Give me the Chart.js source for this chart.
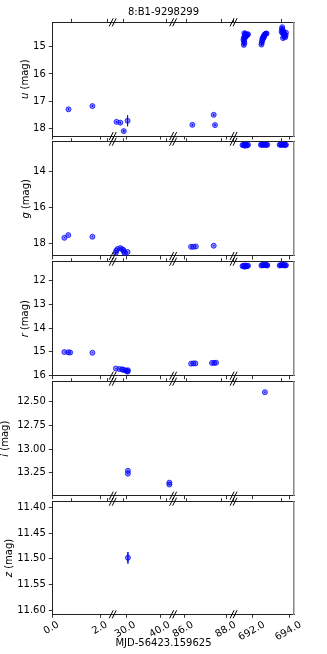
<!DOCTYPE html>
<html>
<head>
<meta charset="utf-8">
<script src="https://cdn.jsdelivr.net/npm/chart.js@4.4.0/dist/chart.umd.min.js"></script>
<style>
  body { margin: 0; background: #fff; }
  #wrap { position: relative; width: 327px; height: 654px; }
  #wrap canvas { position: absolute; left: 0; top: 0; }
</style>
</head>
<body>
<div id="wrap"></div>
<script>
const TITLE = "8:B1-9298299";
const X_LABEL = "MJD-56423.159625";

// broken x axis: four pieces
const segLimits = [[0, 2.5], [26.1, 43.6], [85.49, 88.32], [690.96, 694.26]];
const segTicks = [[0, 2], [30, 40], [86, 88], [692, 694]];

const uTime = [0.67, 1.66, 27.2, 28.3, 29.3, 30.4, 86.39, 87.39, 87.45,
  691.55, 691.60, 691.65, 691.70, 691.58, 691.62, 691.52, 691.56, 691.50, 691.53, 691.55, 691.52, 691.68, 691.75,
  692.48, 692.50, 692.52, 692.55, 692.57, 692.60, 692.63, 692.66, 692.70, 692.73, 692.76, 692.62, 692.54,
  693.62, 693.60, 693.65, 693.58, 693.64, 693.70, 693.75, 693.80, 693.72, 693.78, 693.66, 693.82, 693.68];
const uMag = [17.30, 17.18, 17.76, 17.79, 18.10, 17.72, 17.87, 17.50, 17.88,
  14.50, 14.52, 14.55, 14.56, 14.60, 14.63, 14.66, 14.70, 14.74, 14.80, 14.86, 14.93, 14.58, 14.54,
  14.92, 14.85, 14.78, 14.72, 14.66, 14.62, 14.58, 14.55, 14.53, 14.52, 14.51, 14.65, 14.70,
  14.28, 14.35, 14.40, 14.45, 14.50, 14.52, 14.55, 14.58, 14.62, 14.65, 14.68, 14.48, 14.45];
const uErr = [0.03, 0.03, 0.03, 0.03, 0.04, 0.20, 0.03, 0.03, 0.03,
  0.04, 0.04, 0.04, 0.04, 0.04, 0.04, 0.04, 0.04, 0.04, 0.04, 0.05, 0.05, 0.04, 0.04,
  0.05, 0.05, 0.04, 0.04, 0.04, 0.04, 0.04, 0.04, 0.04, 0.04, 0.04, 0.04, 0.04,
  0.04, 0.04, 0.04, 0.04, 0.04, 0.04, 0.04, 0.04, 0.04, 0.04, 0.04, 0.04, 0.04];

const gTime = [0.50, 0.66, 1.66, 27.0, 27.1, 27.5, 28.3, 28.8, 29.2, 29.4, 29.6, 30.4, 86.33, 86.44, 86.55, 87.39,
  691.45, 691.50, 691.55, 691.60, 691.65, 691.70, 691.75, 691.58,
  692.45, 692.50, 692.55, 692.60, 692.65, 692.70, 692.75, 692.80,
  693.48, 693.53, 693.58, 693.63, 693.68, 693.73, 693.78, 693.82];
const gMag = [17.67, 17.52, 17.61, 18.50, 18.39, 18.29, 18.24, 18.31, 18.35, 18.46, 18.53, 18.46, 18.17, 18.17, 18.15, 18.11,
  12.52, 12.50, 12.53, 12.49, 12.51, 12.54, 12.50, 12.55,
  12.50, 12.49, 12.51, 12.48, 12.50, 12.49, 12.51, 12.50,
  12.50, 12.49, 12.51, 12.48, 12.50, 12.49, 12.51, 12.50];
const gErr = gMag.map(() => 0.02);

const rTime = [0.50, 0.66, 0.74, 1.66, 27.0, 28.0, 28.8, 29.1, 29.7, 30.2, 30.4, 30.5,
  86.33, 86.44, 86.53, 87.31, 87.41, 87.50,
  691.45, 691.50, 691.55, 691.60, 691.65, 691.70, 691.75, 691.58,
  692.48, 692.53, 692.58, 692.63, 692.68, 692.73, 692.78, 692.80,
  693.48, 693.53, 693.58, 693.63, 693.68, 693.73, 693.78, 693.82];
const rMag = [15.01, 15.02, 15.03, 15.04, 15.71, 15.73, 15.74, 15.76, 15.78, 15.81, 15.84, 15.78,
  15.50, 15.49, 15.49, 15.47, 15.47, 15.46,
  11.38, 11.36, 11.39, 11.35, 11.37, 11.38, 11.36, 11.40,
  11.35, 11.33, 11.34, 11.32, 11.34, 11.33, 11.35, 11.34,
  11.35, 11.33, 11.34, 11.32, 11.34, 11.33, 11.35, 11.34];
const rErr = rMag.map(() => 0.01);

const iTime = [30.5, 30.5, 42.5, 42.5, 692.67];
const iMag = [13.23, 13.26, 13.355, 13.375, 12.40];
const iErr = [0.005, 0.005, 0.005, 0.005, 0.005];

const zTime = [30.5];
const zMag = [11.498];
const zErr = [0.011];

const uTicks = [15, 16, 17, 18];
const gTicks = [14, 16, 18];
const rTicks = [12, 13, 14, 15, 16];
const iTicks = [12.5, 12.75, 13.0, 13.25];
const zTicks = [11.4, 11.45, 11.5, 11.55, 11.6];

const bands = [
  { letter: "u", time: uTime, mag: uMag, err: uErr, ticks: uTicks, lim: [14.10, 18.28], digits: 0 },
  { letter: "g", time: gTime, mag: gMag, err: gErr, ticks: gTicks, lim: [12.33, 18.68], digits: 0 },
  { letter: "r", time: rTime, mag: rMag, err: rErr, ticks: rTicks, lim: [11.19, 16.01], digits: 0 },
  { letter: "i", time: iTime, mag: iMag, err: iErr, ticks: iTicks, lim: [12.289, 13.493], digits: 2 },
  { letter: "z", time: zTime, mag: zMag, err: zErr, ticks: zTicks, lim: [11.389, 11.608], digits: 2 },
];

// layout of the five panels
const panelTop = [22.3, 141.7, 261.7, 381.7, 501.7];
const panelBottom = [136, 256, 375.7, 495.7, 614.3];
const labelX = [25.3, 26, 25, 5, 9];
const labelShift = [6, 8.7, 8.7, 11.5];
const PLOT_LEFT = 52.3, PLOT_RIGHT = 294;

const FONT = "'DejaVu Sans', sans-serif";
Chart.defaults.font.family = FONT;
Chart.defaults.font.size = 10;
Chart.defaults.color = "#000";

const decor = {
  id: "decor",
  afterDraw(chart, args, opts) {
    const ctx = chart.ctx;
    const { top, bottom } = chart.chartArea;
    ctx.save();
    // the // marks at each break
    ctx.strokeStyle = "#000";
    ctx.lineWidth = 1;
    for (let k = 1; k < segLimits.length; k++) {
      const bx = chart.scales["x" + k].left;
      for (const y of [top, bottom]) {
        for (const o of [-1.5, 1.5]) {
          ctx.beginPath();
          ctx.moveTo(bx + o - 2, y + 4);
          ctx.lineTo(bx + o + 2, y - 4);
          ctx.stroke();
        }
      }
    }
    ctx.fillStyle = "#000";
    ctx.textBaseline = "middle";
    ctx.textAlign = "center";
    ctx.font = "10px " + FONT;
    if (opts.title) ctx.fillText(TITLE, 163.5, 12.5);
    if (opts.xlabel) ctx.fillText(X_LABEL, 163.5, 643.5);

    // y label with italic band letter
    ctx.translate(opts.labelX, (top + bottom) / 2);
    ctx.rotate(-Math.PI / 2);
    ctx.textAlign = "left";
    const rest = " (mag)";
    ctx.font = "italic 10px " + FONT;
    const w1 = ctx.measureText(opts.letter).width;
    ctx.font = "10px " + FONT;
    const w2 = ctx.measureText(rest).width;
    const x0 = -(w1 + w2) / 2;
    ctx.font = "italic 10px " + FONT;
    ctx.fillText(opts.letter, x0, 0);
    ctx.font = "10px " + FONT;
    ctx.fillText(rest, x0 + w1, 0);
    ctx.restore();
  },
};

function xScale(k, pos, labels, boxHeight) {
  return {
    type: "linear",
    axis: "x",
    position: pos,
    stack: pos,
    stackWeight: 1,
    min: segLimits[k][0],
    max: segLimits[k][1],
    afterBuildTicks: (s) => { s.ticks = segTicks[k].map((v) => ({ value: v })); },
    afterFit: (s) => { s.height = boxHeight; },
    grid: { drawOnChartArea: false, drawTicks: true, tickLength: 3.5, tickColor: "#000", tickWidth: 0.8 },
    border: { display: true, color: "#222", width: 1 },
    ticks: {
      display: labels,
      autoSkip: false,
      minRotation: 30,
      maxRotation: 30,
      padding: 1,
      labelOffset: labelShift[k],
      callback: (v) => Number(v).toFixed(1),
    },
  };
}

const wrap = document.getElementById("wrap");

bands.forEach((b, i) => {
  const canvas = document.createElement("canvas");
  canvas.width = 327;
  canvas.height = 654;
  wrap.appendChild(canvas);
  const last = i === bands.length - 1;
  const xBox = last ? 654 - panelBottom[i] : 0;

  const datasets = [];
  const scales = {};
  segLimits.forEach((lim, k) => {
    const idx = b.time.map((t, j) => j).filter((j) => b.time[j] >= lim[0] && b.time[j] <= lim[1]);
    datasets.push({
      type: "scatter",
      xAxisID: "x" + k,
      yAxisID: "y",
      data: idx.map((j) => ({ x: b.time[j], y: b.mag[j] })),
      backgroundColor: "rgba(0, 0, 255, 0.45)",
      borderColor: "rgba(0, 0, 255, 0.75)",
      borderWidth: 1,
      pointRadius: 2.5,
      order: 1,
    });
    const bars = [];
    idx.forEach((j) => {
      bars.push({ x: b.time[j], y: b.mag[j] - b.err[j] });
      bars.push({ x: b.time[j], y: b.mag[j] + b.err[j] });
      bars.push({ x: b.time[j], y: null });
    });
    datasets.push({
      type: "line",
      xAxisID: "x" + k,
      yAxisID: "y",
      data: bars,
      borderColor: "rgba(0, 0, 255, 0.8)",
      borderWidth: 1,
      pointRadius: 0,
      spanGaps: false,
      fill: false,
      order: 2,
    });
    scales["x" + k] = xScale(k, "bottom", last, xBox);
    scales["xt" + k] = xScale(k, "top", false, 0);
  });

  scales.y = {
    type: "linear",
    position: "left",
    reverse: true,
    min: b.lim[0],
    max: b.lim[1],
    afterBuildTicks: (s) => { s.ticks = b.ticks.map((v) => ({ value: v })); },
    afterFit: (s) => { s.width = 40; },
    grid: { drawOnChartArea: false, tickLength: 3.5, tickColor: "#000", tickWidth: 0.8 },
    border: { color: "#222", width: 1 },
    ticks: { padding: 3, callback: (v) => Number(v).toFixed(b.digits) },
  };
  scales.yr = {
    type: "linear",
    axis: "y",
    position: "right",
    min: b.lim[0],
    max: b.lim[1],
    afterBuildTicks: (s) => { s.ticks = []; },
    afterFit: (s) => { s.width = 10; },
    grid: { display: false },
    border: { color: "#888", width: 1.5 },
    ticks: { display: false },
  };

  new Chart(canvas, {
    type: "scatter",
    data: { datasets },
    options: {
      responsive: false,
      animation: false,
      devicePixelRatio: 1,
      layout: {
        autoPadding: false,
        padding: {
          top: panelTop[i],
          bottom: 654 - panelBottom[i] - xBox,
          left: PLOT_LEFT - 40,
          right: 327 - PLOT_RIGHT - 10,
        },
      },
      scales,
      plugins: {
        legend: { display: false },
        tooltip: { enabled: false },
        decor: { letter: b.letter, labelX: labelX[i], title: i === 0, xlabel: last },
      },
    },
    plugins: [decor],
  });
});
</script>
</body>
</html>
